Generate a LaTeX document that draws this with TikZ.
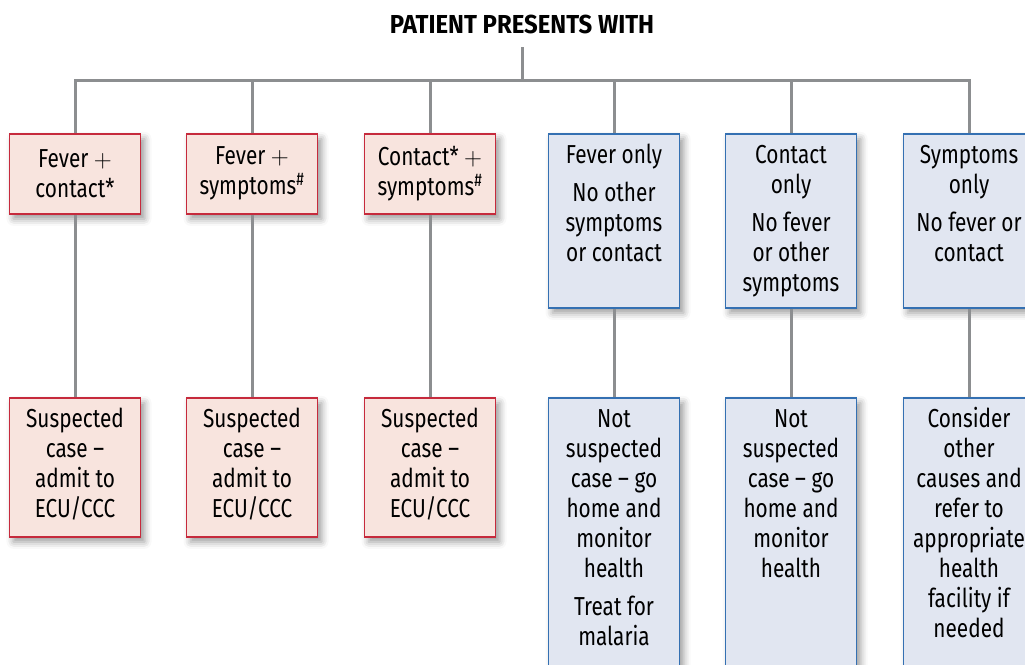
\documentclass[tikz,border=0pt]{standalone}
\usepackage{fontspec}
\setmainfont{Fira Sans}[FakeStretch=0.8, BoldFeatures={FakeStretch=0.92}]
\usepackage{tikz}
\usepackage{xcolor}
\usetikzlibrary{shadows.blur}

\definecolor{caseline}{HTML}{C62A3C}
\definecolor{casefill}{HTML}{F8E4DE}
\definecolor{homeline}{HTML}{3470B2}
\definecolor{homefill}{HTML}{E1E6F1}
\definecolor{linkgray}{HTML}{8C8E90}
\newcommand{\boxlines}[2]{\parbox[c][#1][t]{131pt}{\centering\rule{0pt}{30pt}#2}}

\begin{document}
\begin{tikzpicture}[x=1pt,y=-1pt,
  every node/.style={font=\fontsize{26}{30}\selectfont, inner sep=0pt},
  case/.style={draw=caseline, fill=casefill, line width=1.6pt, minimum width=131pt, anchor=north, align=center,
    blur shadow={shadow xshift=4pt, shadow yshift=-5pt, shadow blur radius=7pt, shadow opacity=40}},
  home/.style={case, draw=homeline, fill=homefill},
  link/.style={draw=linkgray, line width=3pt}]
\clip (0,0) rectangle (1025,664);
\node[font=\fontsize{26}{30}\selectfont\bfseries] (title) at (522,24) {PATIENT PRESENTS WITH};
\coordinate (stem) at (522,47);
\coordinate (fork) at (522,80);
\node[case, minimum height=80pt] (a1) at (75,133) {Fever $+$\\ contact*};
\node[case, minimum height=80pt] (a2) at (252,133) {Fever $+$\\ symptoms\textsuperscript{\#}};
\node[case, minimum height=80pt] (a3) at (430,133) {Contact* $+$\\ symptoms\textsuperscript{\#}};
\node[home] (a4) at (614,133) {\boxlines{174pt}{Fever only\\[8pt] No other\\ symptoms\\ or contact}};
\node[home] (a5) at (791,133) {\boxlines{174pt}{Contact\\ only\\[8pt] No fever\\ or other\\ symptoms}};
\node[home] (a6) at (969,133) {\boxlines{174pt}{Symptoms\\ only\\[8pt] No fever or\\ contact}};
\node[case] (b1) at (75,397) {\boxlines{139pt}{Suspected\\ case --\\ admit to\\ ECU/CCC}};
\node[case] (b2) at (252,397) {\boxlines{139pt}{Suspected\\ case --\\ admit to\\ ECU/CCC}};
\node[case] (b3) at (430,397) {\boxlines{139pt}{Suspected\\ case --\\ admit to\\ ECU/CCC}};
\node[home] (b4) at (614,397) {\boxlines{290pt}{Not\\ suspected\\ case -- go\\ home and\\ monitor\\ health\\[8pt] Treat for\\ malaria}};
\node[home] (b5) at (791,397) {\boxlines{290pt}{Not\\ suspected\\ case -- go\\ home and\\ monitor\\ health}};
\node[home] (b6) at (969,397) {\boxlines{290pt}{Consider\\ other\\ causes and\\ refer to\\ appropriate\\ health\\ facility if\\ needed}};
\draw[link] (stem) -- (fork);
\draw[link] (a1.north) -- (a1.north |- fork) -- (a6.north |- fork) -- (a6.north);
\draw[link] (a2.north) -- (a2.north |- fork);
\draw[link] (a3.north) -- (a3.north |- fork);
\draw[link] (a4.north) -- (a4.north |- fork);
\draw[link] (a5.north) -- (a5.north |- fork);
\draw[link] (a1.south) -- (b1.north);
\draw[link] (a2.south) -- (b2.north);
\draw[link] (a3.south) -- (b3.north);
\draw[link] (a4.south) -- (b4.north);
\draw[link] (a5.south) -- (b5.north);
\draw[link] (a6.south) -- (b6.north);
\end{tikzpicture}
\end{document}
